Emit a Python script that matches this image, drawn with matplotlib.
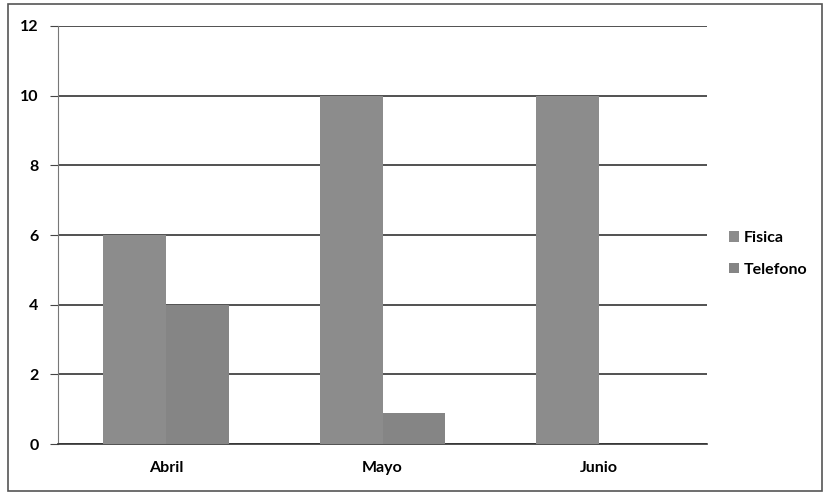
import matplotlib.pyplot as plt
from matplotlib.patches import Rectangle

meses = ["Abril", "Mayo", "Junio"]
fisica = [6, 10, 10]
telefono = [4, 0.9, 0]
y_ticks = [0, 2, 4, 6, 8, 10, 12]

plt.rcParams["font.family"] = ["Lato", "DejaVu Sans"]
plt.rcParams["font.weight"] = "bold"

fig = plt.figure(figsize=(8.29, 4.98), dpi=100)
ax = fig.add_axes([0.070, 0.108, 0.783, 0.840])

# borde exterior del grafico
fig.patches.append(Rectangle((0.010, 0.014), 0.982, 0.978, transform=fig.transFigure,
                             fill=False, edgecolor="#555555", linewidth=1.2))

x = range(len(meses))
w = 0.29
ax.bar([i - w / 2 for i in x], fisica, width=w, color="#8c8c8c", label="Fisica", zorder=3)
ax.bar([i + w / 2 for i in x], telefono, width=w, color="#858585", label="Telefono", zorder=3)

ax.set_xlim(-0.5, 2.5)
ax.set_ylim(0, 12)
ax.set_yticks(y_ticks)
ax.set_xticks(list(x))
ax.set_xticklabels(meses, fontsize=11.5, fontweight="bold")
ax.tick_params(axis="y", labelsize=11.5, length=6, color="#444444", pad=8)
ax.tick_params(axis="x", length=0, pad=12)
ax.grid(axis="y", color="#333333", linewidth=1.2, zorder=0)

for s in ["top", "right"]:
    ax.spines[s].set_visible(False)
ax.spines["left"].set_color("#777777")
ax.spines["bottom"].set_color("#333333")
ax.spines["bottom"].set_linewidth(1.2)

ax.legend(loc="center left", bbox_to_anchor=(1.012, 0.455), frameon=False,
          fontsize=11.5, handlelength=0.6, handleheight=0.6, handletextpad=0.3,
          labelspacing=1.1)

plt.savefig("out.png", dpi=100)
plt.close()
